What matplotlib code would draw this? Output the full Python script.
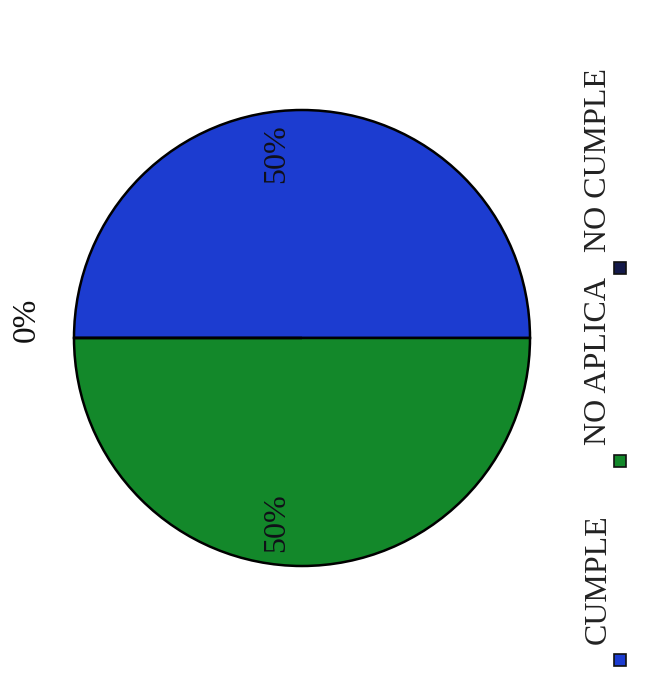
import matplotlib.pyplot as plt
from matplotlib.patches import Rectangle

# Data (chart is scanned rotated 90 degrees, so text runs bottom-to-top)
categories = ["CUMPLE", "NO APLICA", "NO CUMPLE"]
values = [50, 50, 0]
colors = ["#1c3cd0", "#13882a", "#141a4a"]

plt.rcParams["font.family"] = ["Liberation Serif", "DejaVu Serif"]

fig = plt.figure(figsize=(6.56, 6.83), dpi=100)
ax = fig.add_axes([74 / 656, 117 / 683, 456 / 656, 456 / 683])

wedges, texts, autotexts = ax.pie(
    values,
    colors=colors,
    startangle=180,
    counterclock=False,
    labels=[f"{v}%" if v == 0 else "" for v in values],
    labeldistance=1.21,
    autopct=lambda p: f"{p:.0f}%" if p > 0 else "",
    pctdistance=0.81,
    wedgeprops=dict(edgecolor="black", linewidth=1.8),
    textprops=dict(rotation=90, va="center", ha="center"),
)
ax.set_xlim(-1, 1)
ax.set_ylim(-1, 1)
ax.set_aspect("auto")

for t in autotexts:
    x, y = t.get_position()
    t.set_position((x - 0.11, y))
    t.set_fontsize(23)
    t.set_color("#101018")

for t in texts:
    x, y = t.get_position()
    t.set_position((x, y + 0.08))
    t.set_fontsize(24)
    t.set_color("#111111")

# Legend drawn by hand, rotated like the scan
legend_y = [660, 461, 268]
for name, col, yp in zip(categories, colors, legend_y):
    fy = 1 - yp / 683
    fig.patches.append(Rectangle((614 / 656, fy - 6 / 683), 12 / 656, 12 / 683,
                                 transform=fig.transFigure, facecolor=col,
                                 edgecolor="#111111", linewidth=1.2))
    fig.text(598 / 656, fy + 16 / 683, name, rotation=90, rotation_mode="anchor",
             ha="left", va="center", fontsize=23, color="#222222")

fig.savefig("out.png", dpi=100, facecolor="white")
